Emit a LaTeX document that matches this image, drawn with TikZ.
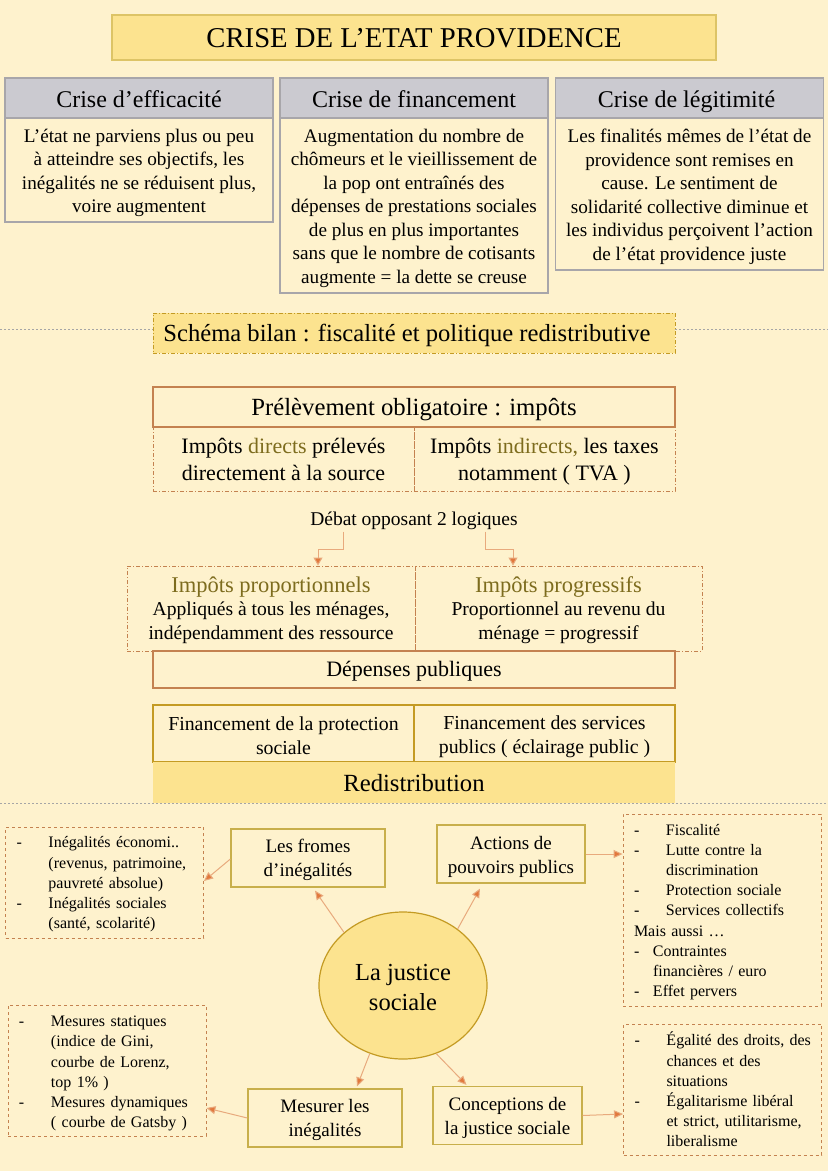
\documentclass[tikz,border=0pt]{standalone}
\usepackage{fontspec}
\setmainfont{Liberation Serif}
\usetikzlibrary{arrows.meta,shapes.geometric}
\newcommand{\tiret}[1][32pt]{\makebox[#1][l]{-}}
\newcommand{\retrait}[1][32pt]{\hspace*{#1}}
\newcommand{\haut}[1]{\rule{0pt}{#1pt}}
\tikzset{
 boite/.style={inner sep=0pt,align=center,line width=1.2pt},
 crise/.style={boite,draw=griset,fill=gris,minimum width=268pt,minimum height=40pt,text height=18pt,text depth=0pt,font=\fontsize{24}{28}\selectfont},
 corps/.style={boite,draw=griset,minimum width=268pt,font=\fontsize{19.2}{23.5}\selectfont},
 pointille/.style={boite,draw=orange1,dash pattern=on 4pt off 2pt on 1pt off 2pt,line width=.9pt},
 plein/.style={boite,draw=orange1},
 finance/.style={boite,draw=or1,line width=1.8pt,minimum height=57pt,font=\fontsize{19.8}{24}\selectfont},
 forme/.style={boite,draw=or2,minimum height=58pt,font=\fontsize{19}{24}\selectfont},
 liste/.style={boite,draw=orange1,dashed,align=left,line width=.9pt,minimum width=198pt,text width=176pt,font=\fontsize{16}{20.2}\selectfont},
 fleche/.style={draw=orange2,line width=1pt,-{Triangle[length=9pt,width=8pt,fill=orange3]}},
 coude/.style={draw=orange2,line width=1pt,-{Triangle[length=8pt,width=9pt,fill=orange3]}},
 separe/.style={draw=gray!70,dash pattern=on 2pt off 2pt,line width=.6pt}
}
\begin{document}
\begin{tikzpicture}[x=1pt,y=-1pt]
 \definecolor{fond}{RGB}{254,242,205}
 \definecolor{jaune}{RGB}{252,227,143}
 \definecolor{gris}{RGB}{203,202,208}
 \definecolor{griset}{RGB}{168,166,170}
 \definecolor{orange1}{RGB}{196,130,80}
 \definecolor{orange2}{RGB}{232,170,125}
 \definecolor{orange3}{RGB}{226,120,60}
 \definecolor{or1}{RGB}{196,155,35}
 \definecolor{or2}{RGB}{200,175,75}
 \definecolor{olive}{RGB}{125,108,30}
 \fill[fond] (0,0) rectangle (828,1171);
 \useasboundingbox (0,0) rectangle (828,1171);
 % titre
 \node[boite,draw=or2!60!jaune,fill=jaune,minimum width=604pt,minimum height=45pt,text height=20.4pt,text depth=0pt,
 font=\fontsize{28.7}{32}\selectfont] (titre) at (414,37.5) {CRISE DE L’ETAT PROVIDENCE};
 \foreach \nom/\xp/\txt in {
   eff/139/{Crise d’efficacité}, fin/414/{Crise de financement},
   leg/689.5/{Crise de légitimité}
 } {
   \node[crise] (\nom) at (\xp,98) {\txt};
 }
 \node[corps,minimum height=104pt] (effcorps) at (139,170) {\haut{19}L’état ne parviens plus ou peu\\à atteindre ses objectifs, les\\inégalités ne se réduisent plus,\\voire augmentent};
 \node[corps,minimum height=175pt] (fincorps) at (414,205.5) {\haut{19}Augmentation du nombre de\\chômeurs et le vieillissement de\\la pop ont entraînés des\\dépenses de prestations sociales\\de plus en plus importantes\\sans que le nombre de cotisants\\augmente = la dette se creuse};
 \node[corps,minimum height=152pt] (legcorps) at (689.5,194) {\haut{19}Les finalités mêmes de l’état de\\providence sont remises en\\cause. Le sentiment de\\solidarité collective diminue et\\les individus perçoivent l’action\\de l’état providence juste};
 % schema bilan
 \node[pointille,draw=or1,fill=jaune,minimum width=522pt,minimum height=40pt,text height=17.4pt,text depth=0pt,
 font=\fontsize{24.6}{28}\selectfont] (bilan) at (414,333) {Schéma bilan : fiscalité et politique redistributive\hspace*{14pt}};
 \coordinate (gauche1) at (0,329);
 \coordinate (droite1) at (828,329);
 \draw[separe] (gauche1) -- (bilan.west |- gauche1);
 \draw[separe] (bilan.east |- droite1) -- (droite1);
 % impots
 \node[plein,minimum width=522pt,minimum height=40pt,text height=17.4pt,text depth=0pt,font=\fontsize{24.7}{28}\selectfont] (prelev) at (414,407) {Prélèvement obligatoire : impôts};
 \node[pointille,minimum width=261pt,minimum height=64pt,font=\fontsize{22}{27}\selectfont] (directs) at (283.5,459) {\haut{17}Impôts \textcolor{olive}{directs} prélevés\\directement à la source};
 \node[pointille,minimum width=261pt,minimum height=64pt,font=\fontsize{22}{27}\selectfont] (indirects) at (544.5,459) {\haut{21}Impôts \textcolor{olive}{indirects,} les taxes\\notamment ( TVA )};
 \node[inner sep=0pt,text height=13pt,text depth=0pt,font=\fontsize{19.5}{23}\selectfont] (debat) at (414,519) {Débat opposant 2 logiques};
 \node[pointille,minimum width=288pt,minimum height=85pt,font=\fontsize{19.6}{23.7}\selectfont] (prop) at (271,608.5) {\haut{19}{\fontsize{22.5}{26}\selectfont\textcolor{olive}{Impôts proportionnels}}\\Appliqués à tous les ménages,\\indépendamment des ressource};
 \node[pointille,minimum width=287pt,minimum height=85pt,font=\fontsize{19.6}{23.7}\selectfont] (prog) at (558.5,608.5) {\haut{19}{\fontsize{22.5}{26}\selectfont\textcolor{olive}{Impôts progressifs}}\\Proportionnel au revenu du\\ménage = progressif};
 \coordinate (coude1) at (318,549);
 \coordinate (coude2) at (513,549);
 \draw[coude] ([xshift=-71pt,yshift=-6pt]debat.south) |- (coude1) -- ([xshift=47pt]prop.north);
 \draw[coude] ([xshift=71pt,yshift=-6pt]debat.south) |- (coude2) -- ([xshift=-45.5pt]prog.north);
 % depenses
 \node[plein,minimum width=522pt,minimum height=37pt,text height=14.4pt,text depth=0pt,font=\fontsize{22}{25}\selectfont] (depenses) at (414,669.5) {Dépenses publiques};
 \node[finance,minimum width=261pt] (protection) at (283.5,733.5) {\haut{18}Financement de la protection\\sociale};
 \node[finance,minimum width=261pt] (services) at (544.5,733.5) {\haut{19.5}Financement des services\\publics ( éclairage public )};
 \node[boite,fill=jaune,minimum width=522pt,minimum height=41pt,text height=18.4pt,text depth=0pt,font=\fontsize{24.7}{28}\selectfont] (redis) at (414,782.5) {Redistribution};
 \coordinate (gauche2) at (0,803);
 \coordinate (droite2) at (828,803);
 \draw[separe] (gauche2) -- (droite2);
 % justice sociale
 \node[ellipse,draw=or1,fill=jaune,line width=1.2pt,minimum width=168pt,minimum height=147pt,inner sep=0pt,
 align=center,font=\fontsize{24.5}{30}\selectfont] (justice) at (403,985.5) {\haut{20.7}La justice\\sociale};
 \node[forme,minimum width=154pt] (fromes) at (308,858) {\haut{18}Les fromes\\d’inégalités};
 \node[forme,minimum width=148pt] (actions) at (511,854) {\haut{19}Actions de\\pouvoirs publics};
 \node[forme,minimum width=154pt] (mesurer) at (325,1118) {\haut{17}Mesurer les\\inégalités};
 \node[forme,minimum width=149pt] (conceptions) at (507.5,1115.5) {\haut{18}Conceptions de\\la justice sociale};
 \node[liste,minimum height=111pt] (listeA) at (104.5,882.5) {\haut{15}\tiret Inégalités économi..\\\retrait (revenus, patrimoine,\\\retrait pauvreté absolue)\\\tiret Inégalités sociales\\\retrait (santé, scolarité)};
 \node[liste,minimum height=131pt] (listeB) at (107,1070.5) {\haut{17}\tiret Mesures statiques\\\retrait (indice de Gini,\\\retrait courbe de Lorenz,\\\retrait top 1\% )\\\tiret Mesures dynamiques\\\retrait ( courbe de Gatsby )};
 \node[liste,minimum height=192pt] (listeC) at (722,910) {\haut{15}\tiret Fiscalité\\\tiret Lutte contre la\\\retrait discrimination\\\tiret Protection sociale\\\tiret Services collectifs\\Mais aussi …\\\tiret[19pt]Contraintes\\\retrait[19pt]financières / euro\\\tiret[19pt]Effet pervers};
 \node[liste,minimum height=131pt] (listeD) at (722.5,1089.5) {\tiret \mbox{Égalité des droits, des}\\\retrait chances et des\\\retrait situations\\\tiret Égalitarisme libéral\\\retrait \mbox{et strict, utilitarisme,}\\\retrait liberalisme};
 \draw[fleche] (justice.138) -- ([xshift=7pt,yshift=-3pt]fromes.south);
 \draw[fleche] (justice.46) -- ([xshift=-31pt,yshift=-5pt]actions.south);
 \draw[fleche] (justice.244) -- ([xshift=32pt,yshift=2pt]mesurer.north);
 \draw[fleche] (justice.296) -- ([xshift=-41pt,yshift=1pt]conceptions.north);
 \draw[fleche] ([yshift=-1pt]fromes.west) -- ([yshift=1.5pt]listeA.east);
 \draw[fleche] (actions.east) -- (listeC.west |- actions.east);
 \draw[fleche] (mesurer.west) -- ([yshift=-37.5pt]listeB.east);
 \draw[fleche] (conceptions.east) -- ([yshift=-24.5pt]listeD.west);
\end{tikzpicture}
\end{document}
